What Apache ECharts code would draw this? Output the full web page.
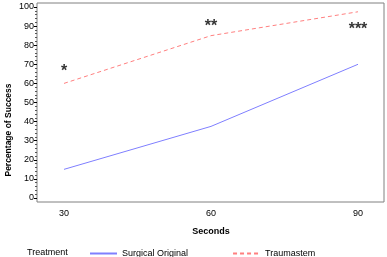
<!DOCTYPE html>
<html>
<head>
<meta charset="utf-8">
<script src="https://cdn.jsdelivr.net/npm/echarts@6/dist/echarts.min.js"></script>
<style>
  html, body { margin: 0; padding: 0; background: #fff; }
  #chart { width: 387px; height: 257px; }
</style>
</head>
<body>
<div id="chart"></div>
<script>
// data
const seconds = [30, 60, 90]
const surgical = [15, 37.5, 70]
const traumastem = [60, 85, 97.5]
const stars = ['*', '**', '***']
const starY = [66, 90, 88]
const yTicks = { min: 0, max: 100, interval: 10 }

const font = 'Liberation Sans, Arial, sans-serif'
const chart = echarts.init(document.getElementById('chart'), null, { renderer: 'canvas' })

const option = {
  animation: false,
  grid: [
    // frame box
    { left: 37, right: 3, top: 3, bottom: 55, show: true, borderColor: '#808080', borderWidth: 1, backgroundColor: 'transparent' },
    // data area
    { left: 64, right: 29, top: 7, bottom: 59 }
  ],
  xAxis: [
    { gridIndex: 0, type: 'value', show: false, min: 0, max: 1 },
    {
      gridIndex: 1, type: 'value', min: 30, max: 90, interval: 30,
      offset: 4,
      axisLine: { show: false }, axisTick: { show: false }, splitLine: { show: false },
      axisLabel: { color: '#000', fontFamily: font, fontSize: 9, margin: 7 },
      name: 'Seconds', nameLocation: 'middle', nameGap: 25,
      nameTextStyle: { color: '#000', fontFamily: font, fontSize: 9, fontWeight: 'bold' }
    }
  ],
  yAxis: [
    { gridIndex: 0, type: 'value', show: false, min: 0, max: 1 },
    {
      gridIndex: 1, type: 'value', min: yTicks.min, max: yTicks.max, interval: yTicks.interval,
      offset: 27,
      axisLine: { show: false },
      axisTick: { show: true, length: 3, lineStyle: { color: '#000' } },
      minorTick: { show: true, splitNumber: 5, length: 2, lineStyle: { color: '#555' } },
      splitLine: { show: false },
      axisLabel: { color: '#000', fontFamily: font, fontSize: 9, margin: 3 }
    }
  ],
  legend: {
    left: 84, top: 244,
    itemWidth: 27, itemHeight: 10, itemGap: 44,
    itemStyle: { opacity: 0 },
    textStyle: { color: '#000', fontFamily: font, fontSize: 9 },
    data: ['Surgical Original', 'Traumastem']
  },
  graphic: [
    {
      type: 'text', x: 27, y: 253,
      style: { text: 'Treatment', fill: '#000', font: '9px ' + font, verticalAlign: 'middle' }
    },
    {
      type: 'text', x: 9, y: 130, rotation: Math.PI / 2,
      style: { text: 'Percentage of Success', fill: '#000', font: 'bold 8.5px ' + font, align: 'center', verticalAlign: 'middle' }
    }
  ],
  series: [
    {
      name: 'Surgical Original', type: 'line', xAxisIndex: 1, yAxisIndex: 1,
      symbol: 'none', lineStyle: { color: '#7f7fff', width: 1 }, itemStyle: { color: '#7f7fff' },
      data: seconds.map((s, i) => [s, surgical[i]])
    },
    {
      name: 'Traumastem', type: 'line', xAxisIndex: 1, yAxisIndex: 1,
      symbol: 'none', lineStyle: { color: '#ff7f7f', width: 1, type: [4, 3] }, itemStyle: { color: '#ff7f7f' },
      data: seconds.map((s, i) => [s, traumastem[i]])
    },
    {
      type: 'scatter', xAxisIndex: 1, yAxisIndex: 1, symbol: 'circle', symbolSize: 1, silent: true,
      itemStyle: { color: 'rgba(0,0,0,0)' },
      label: {
        show: true, position: 'inside', color: '#000', fontFamily: font, fontSize: 16, fontWeight: 'bold',
        formatter: p => stars[p.dataIndex]
      },
      data: seconds.map((s, i) => [s, starY[i]])
    }
  ]
}

chart.setOption(option)
</script>
</body>
</html>
